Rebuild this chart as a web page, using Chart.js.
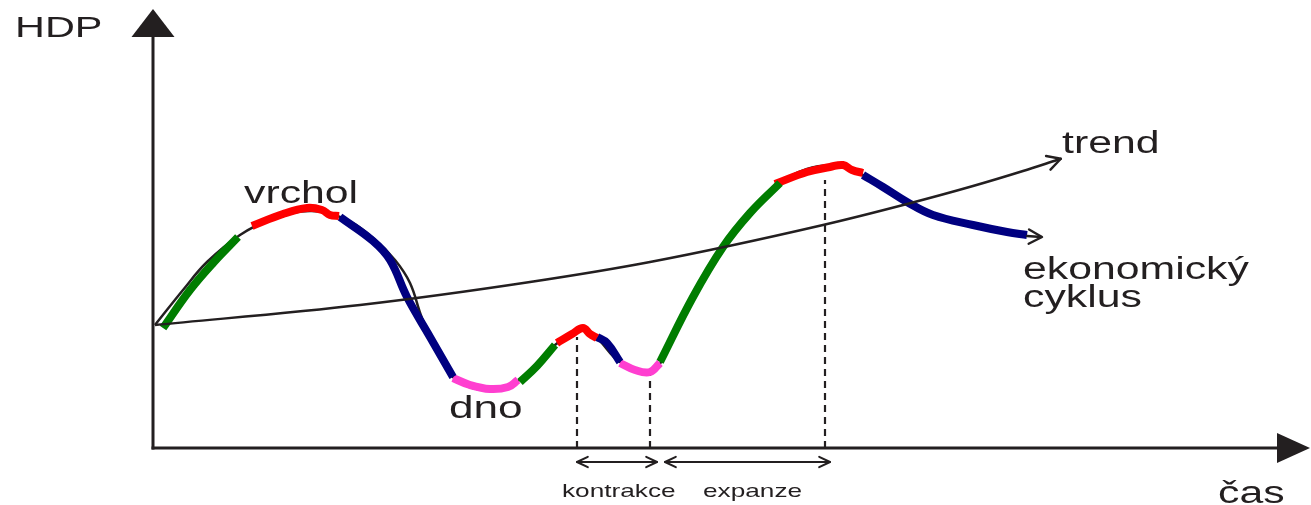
<!DOCTYPE html>
<html>
<head>
<meta charset="utf-8">
<script src="https://cdn.jsdelivr.net/npm/chart.js@4.4.1/dist/chart.umd.min.js"></script>
<style>
  html, body { margin: 0; padding: 0; background: #fff; }
  canvas { display: block; }
</style>
</head>
<body>
<canvas id="cycleChart" width="1311" height="505"></canvas>
<script>
// time (x) and HDP (y) in arbitrary units, origin where the axes meet
const cycleX = [0.2, 3.0, 5.4, 8.7, 11.7, 15.7, 19.2, 22.0, 24.2, 25.7, 26.9, 27.9, 30.0, 33.4, 36.5, 40.2, 43.0, 44.4, 46.7, 49.7, 51.2, 54.0, 57.0, 59.7, 62.7, 65.4, 68.2, 69.7, 71.0, 73.0, 75.4, 78.0, 82.0, 85.4, 87.4];
const cycleY = [12.3, 15.8, 18.6, 21.3, 22.8, 23.7, 22.9, 21.0, 18.8, 16.5, 13.0, 11.0, 7.1, 5.8, 6.7, 10.3, 11.9, 11.0, 8.6, 7.6, 9.3, 15.1, 20.1, 23.5, 26.5, 27.9, 28.3, 28.1, 27.3, 26.1, 24.6, 23.3, 22.3, 21.6, 21.3];

const trendX = [0.2, 20.7, 37.7, 49.7, 67.0, 75.4, 82.0, 87.0, 90.4];
const trendY = [12.3, 14.3, 16.6, 18.6, 22.3, 24.4, 26.2, 27.7, 28.8];

// phases of the cycle, drawn over the thin curve
const phaseNames = ['expanze', 'vrchol', 'kontrakce', 'dno', 'expanze', 'vrchol', 'kontrakce', 'dno', 'expanze', 'vrchol', 'kontrakce'];
const phaseX = [
  [1.0, 3.7, 6.1, 8.5],
  [9.9, 13.0, 15.4, 16.9, 17.7, 18.6],
  [18.7, 22.0, 23.7, 25.4, 27.7, 30.0],
  [30.0, 31.7, 33.7, 35.5, 36.5],
  [36.7, 38.4, 40.2],
  [40.4, 41.9, 43.0, 43.7, 44.4],
  [44.4, 45.4, 46.7],
  [46.7, 48.2, 49.7, 50.7],
  [50.7, 54.0, 57.0, 59.7, 62.7],
  [62.2, 65.4, 67.7, 69.0, 69.9, 71.0],
  [71.0, 73.0, 75.4, 78.0, 82.0, 85.4, 87.4]
];
const phaseY = [
  [12.0, 15.8, 18.6, 21.1],
  [22.2, 23.4, 24.0, 23.8, 23.3, 23.2],
  [23.1, 20.7, 18.8, 15.1, 11.1, 7.1],
  [7.0, 6.3, 5.9, 6.1, 6.8],
  [6.6, 8.2, 10.3],
  [10.5, 11.4, 12.0, 11.4, 11.0],
  [11.1, 10.5, 8.6],
  [8.5, 7.8, 7.6, 8.5],
  [8.6, 15.1, 20.1, 23.5, 26.5],
  [26.4, 27.6, 28.1, 28.3, 27.8, 27.5],
  [27.3, 26.1, 24.6, 23.3, 22.3, 21.6, 21.3]
];
const phaseColors = {
  'expanze': '#007d00',
  'vrchol': '#ff0000',
  'kontrakce': '#000080',
  'dno': '#ff3fd0'
};

// dashed markers: time and the height where they meet the curve
const markX = [42.4, 49.7, 67.2];
const markY = [11.1, 7.3, 26.8];

const labels = ['HDP', 'vrchol', 'dno', 'trend', 'ekonomický', 'cyklus', 'čas', 'kontrakce', 'expanze'];

const INK = '#231f20';

function pts(xs, ys) {
  return xs.map((x, i) => ({ x: x, y: ys[i] }));
}

// chart.js paints the first dataset on top, so: trend, phases, markers, thin cycle
const datasets = [];
datasets.push({ data: pts(trendX, trendY), borderColor: INK, borderWidth: 2.5, cubicInterpolationMode: 'monotone' });
phaseNames.forEach((name, i) => {
  datasets.push({ data: pts(phaseX[i], phaseY[i]), borderColor: phaseColors[name], borderWidth: 8, borderCapStyle: 'butt', tension: 0.4 });
});
markX.forEach((x, i) => {
  datasets.push({ data: [{ x: x, y: 0 }, { x: x, y: markY[i] }], borderColor: INK, borderWidth: 2.2, borderDash: [7, 5], tension: 0 });
});
datasets.push({ data: pts(cycleX, cycleY), borderColor: INK, borderWidth: 2.5, tension: 0.4 });

function chevron(ctx, tx, ty, ang, len, spread) {
  ctx.beginPath();
  ctx.moveTo(tx - len * Math.cos(ang - spread), ty - len * Math.sin(ang - spread));
  ctx.lineTo(tx, ty);
  ctx.lineTo(tx - len * Math.cos(ang + spread), ty - len * Math.sin(ang + spread));
  ctx.stroke();
}

function stretchedText(ctx, txt, x, y, size) {
  ctx.save();
  ctx.font = size + 'px "Liberation Sans", Arial, sans-serif';
  ctx.translate(x, y);
  ctx.scale(1.38, 1);
  ctx.fillText(txt, 0, 0);
  ctx.restore();
}

const diagram = {
  id: 'diagram',
  beforeDatasetsDraw(chart) {
    const ctx = chart.ctx;
    const xs = chart.scales.x, ys = chart.scales.y;
    const ox = xs.getPixelForValue(0), oy = ys.getPixelForValue(0);
    ctx.save();
    ctx.strokeStyle = INK;
    ctx.fillStyle = INK;
    ctx.lineWidth = 3;
    // y axis
    ctx.beginPath();
    ctx.moveTo(ox, oy + 1.5);
    ctx.lineTo(ox, 30);
    ctx.stroke();
    ctx.beginPath();
    ctx.moveTo(ox, 9);
    ctx.lineTo(ox - 21.5, 37);
    ctx.lineTo(ox + 21.5, 37);
    ctx.closePath();
    ctx.fill();
    // x axis
    ctx.beginPath();
    ctx.moveTo(ox - 1.5, oy);
    ctx.lineTo(1285, oy);
    ctx.stroke();
    ctx.beginPath();
    ctx.moveTo(1310, oy);
    ctx.lineTo(1277, oy - 15);
    ctx.lineTo(1277, oy + 15);
    ctx.closePath();
    ctx.fill();
    ctx.restore();
  },
  afterDatasetsDraw(chart) {
    const ctx = chart.ctx;
    const xs = chart.scales.x, ys = chart.scales.y;
    ctx.save();
    ctx.strokeStyle = INK;
    ctx.fillStyle = INK;
    ctx.lineWidth = 2.4;
    ctx.lineCap = 'round';
    ctx.lineJoin = 'round';

    // arrow tips of trend and cycle
    const tn = trendX.length - 1;
    let ax = xs.getPixelForValue(trendX[tn]), ay = ys.getPixelForValue(trendY[tn]);
    let bx = xs.getPixelForValue(trendX[tn - 1]), by = ys.getPixelForValue(trendY[tn - 1]);
    const ang = Math.atan2(ay - by, ax - bx);
    const tipX = ax + 4 * Math.cos(ang), tipY = ay + 4 * Math.sin(ang);
    ctx.beginPath();
    ctx.moveTo(ax, ay);
    ctx.lineTo(tipX, tipY);
    ctx.stroke();
    chevron(ctx, tipX, tipY, ang, 15, 0.5);

    const cn = cycleX.length - 1;
    ax = xs.getPixelForValue(cycleX[cn]); ay = ys.getPixelForValue(cycleY[cn]);
    ctx.beginPath();
    ctx.moveTo(ax, ay + 1);
    ctx.lineTo(ax + 14, ay + 2);
    ctx.stroke();
    chevron(ctx, ax + 15, ay + 2, 0.03, 15, 0.5);

    // double arrows below the time axis
    const yA = ys.getPixelForValue(0) + 14;
    const spans = [[markX[0], markX[1] + 0.7], [markX[1] + 1.5, markX[2] + 0.5]];
    ctx.lineWidth = 2;
    spans.forEach(s => {
      const x1 = xs.getPixelForValue(s[0]), x2 = xs.getPixelForValue(s[1]);
      ctx.beginPath();
      ctx.moveTo(x1, yA);
      ctx.lineTo(x2, yA);
      ctx.stroke();
      chevron(ctx, x1, yA, Math.PI, 12, 0.45);
      chevron(ctx, x2, yA, 0, 12, 0.45);
    });

    // labels
    ctx.textBaseline = 'alphabetic';
    ctx.textAlign = 'left';
    stretchedText(ctx, labels[0], 15, 37, 30);
    stretchedText(ctx, labels[1], 244, 203, 31);
    stretchedText(ctx, labels[2], 449, 418, 32);
    stretchedText(ctx, labels[3], 1062, 153, 31);
    stretchedText(ctx, labels[4], 1023, 279, 31);
    stretchedText(ctx, labels[5], 1023, 307, 31);
    stretchedText(ctx, labels[6], 1218, 503, 31);
    stretchedText(ctx, labels[7], 562, 497, 19);
    stretchedText(ctx, labels[8], 703, 497, 19);
    ctx.restore();
  }
};

new Chart(document.getElementById('cycleChart'), {
  type: 'line',
  data: { datasets: datasets },
  options: {
    responsive: false,
    animation: false,
    layout: { padding: 0 },
    elements: { point: { radius: 0 } },
    datasets: { line: { clip: false } },
    plugins: { legend: { display: false }, tooltip: { enabled: false } },
    scales: {
      x: { type: 'linear', min: -15.3, max: 115.8, display: false },
      y: { type: 'linear', min: -5.7, max: 44.8, display: false }
    }
  },
  plugins: [diagram]
});
</script>
</body>
</html>
